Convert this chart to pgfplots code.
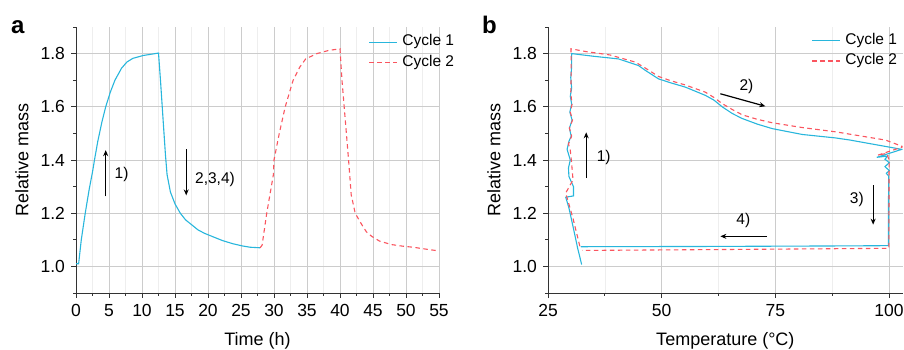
\documentclass[border=0pt]{standalone}
\usepackage{fontspec}
\setmainfont{Liberation Sans}
\usepackage{pgfplots}
\pgfplotsset{compat=1.18}
\usetikzlibrary{arrows.meta}
\definecolor{cyc1}{RGB}{40,182,220}
\definecolor{cyc2}{RGB}{250,85,95}
\tikzset{
 ann/.style={font=\fontsize{15.5}{18}\selectfont},
 arr/.style={black, line width=1.2pt, -{Stealth[length=6pt,width=5pt]}},
}
\pgfplotsset{
 myax/.style={
  scale only axis, height=266pt,
  ymin=0.9, ymax=1.9, ytick={1.0,1.2,1.4,1.6,1.8}, minor ytick={0.9,1.1,1.3,1.5,1.7,1.9},
  axis x line*=bottom, axis y line*=left,
  axis line style={-, black!80, line width=0.8pt},
  tick align=outside, major tick length=5pt, minor tick length=3pt,
  every tick/.style={black!80, line width=0.8pt},
  xmajorgrids, ymajorgrids, xminorgrids,
  major grid style={gray!40, line width=0.6pt},
  minor grid style={gray!13, line width=0.6pt},
  yticklabel style={/pgf/number format/fixed, /pgf/number format/fixed zerofill, /pgf/number format/precision=1, xshift=-2.5pt},
  xticklabel style={yshift=-3pt},
  /pgf/number format/assume math mode=true,
  tick label style={font=\fontsize{17.5}{20}\selectfont},
  every axis x label/.style={at={(axis description cs:0.5,-0.1992)}, anchor=base, font=\fontsize{18}{21}\selectfont},
  legend style={draw=none, fill=none, font=\fontsize{15.5}{18}\selectfont, anchor=north west, inner sep=0pt, row sep=3pt, nodes={inner sep=1.5pt, text height=11pt, text depth=3.5pt}},
  legend cell align=left,
  legend image code/.code={\draw[#1] (0pt,0pt) -- (28pt,0pt); \path (31pt,0pt);},
 },
 c1/.style={cyc1, line width=1.1pt},
 c2/.style={cyc2, line width=1.1pt, dash pattern=on 4.5pt off 3.5pt},
}
\begin{document}
\begin{tikzpicture}[x=1pt,y=1pt]
\useasboundingbox (0,0) rectangle (904,350);
\node[anchor=base west, inner sep=0pt, font=\bfseries\fontsize{24}{28}\selectfont] at (11,316.7) {a};
\node[anchor=base west, inner sep=0pt, font=\bfseries\fontsize{24}{28}\selectfont] at (482,316.7) {b};
\begin{axis}[myax, at={(76pt,57pt)}, anchor=south west, width=363pt,
  xmin=0, xmax=55, xtick={0,5,...,55}, minor xtick={2.5,7.5,...,52.5},
  xlabel={Time (h)}, ylabel={Relative mass},
  every axis y label/.style={at={(axis description cs:-0.1314,0.5)}, rotate=90, anchor=base, font=\fontsize{18}{21}\selectfont},
  legend style={at={(0.806,0.977)}}]
\addplot[c1] coordinates {
(0,1.01) (0.4,1.01) (0.8,1.1) (1.4,1.2) (2.0,1.29) (2.5,1.355) (2.8,1.40) (3.3,1.47) (3.9,1.54)
(4.5,1.60) (5.2,1.655) (5.9,1.70) (6.9,1.745) (7.7,1.768) (8.6,1.782) (10.2,1.793) (11.5,1.798)
(12.5,1.802) (12.8,1.70) (13.2,1.55) (13.55,1.42) (13.8,1.345) (14.3,1.28) (15.0,1.235) (15.8,1.2)
(16.6,1.175) (17.5,1.157) (18.5,1.137) (19.5,1.124) (20.6,1.113) (22.2,1.097) (23.8,1.085)
(25.2,1.077) (26.4,1.072) (27.9,1.07)};
\addlegendentry{Cycle 1}
\addplot[c2] coordinates {
(27.9,1.07) (28.2,1.08) (28.9,1.2) (29.9,1.344) (30.0,1.40) (30.8,1.5) (31.7,1.6) (32.9,1.70)
(33.9,1.749) (34.8,1.78) (36.5,1.80) (38.3,1.812) (40.0,1.818) (40.3,1.70) (40.8,1.55) (41.3,1.40)
(41.7,1.269) (42.3,1.2) (43.3,1.157) (44.0,1.13) (44.8,1.113) (46,1.095) (47.8,1.082) (49.5,1.076)
(51.1,1.072) (53,1.065) (55,1.058)};
\addlegendentry{Cycle 2}
\draw[arr] (axis cs:4.5,1.263) -- (axis cs:4.5,1.437);
\draw[arr] (axis cs:16.7,1.44) -- (axis cs:16.7,1.267);
\node[ann] at (axis cs:6.9,1.344) {1)};
\node[ann] at (axis cs:21.06,1.325) {2,3,4)};
\end{axis}
\begin{axis}[myax, at={(548pt,57pt)}, anchor=south west, width=354.7pt,
  xmin=25, xmax=103, xtick={25,50,75,100}, minor xtick={37.5,62.5,87.5},
  xlabel={Temperature (°C)}, ylabel={Relative mass},
  every axis y label/.style={at={(axis description cs:-0.1344,0.5)}, rotate=90, anchor=base, font=\fontsize{18}{21}\selectfont},
  legend style={at={(0.743,0.983)}}]
\addplot[c1] coordinates {
(32.4,1.007) (31.5,1.07) (30.5,1.15) (29.6,1.22) (28.9,1.26) (30.6,1.265) (30.6,1.30) (29.6,1.338)
(29.5,1.37) (29.9,1.40) (29.2,1.44) (29.6,1.47) (30.1,1.49) (29.7,1.52) (30.3,1.55) (29.8,1.58)
(30.2,1.61) (29.9,1.64) (30.2,1.67) (30.0,1.71) (30.2,1.75) (30.2,1.80)
(35,1.79) (40.5,1.78) (44.9,1.755) (46.4,1.737) (49.3,1.705) (52,1.69) (55.2,1.674) (59.6,1.643)
(61.5,1.625) (63.3,1.60) (65.5,1.575) (67.7,1.556) (71,1.535) (74.3,1.518) (80.9,1.496) (88.2,1.483)
(91.4,1.475) (102.8,1.44) (97.3,1.41) (99.7,1.415) (99.1,1.403) (100.05,1.39) (99.1,1.375)
(100.05,1.36) (99.4,1.35) (99.9,1.34) (99.85,1.078) (90,1.077) (60,1.075) (32.2,1.074)};
\addlegendentry{Cycle 1}
\addplot[c2] coordinates {
(32.0,1.076) (30.5,1.18) (28.9,1.276) (30.5,1.325) (30.2,1.387) (29.9,1.437) (29.5,1.46) (30.2,1.49)
(29.7,1.52) (30.4,1.55) (29.9,1.58) (30.3,1.61) (30.0,1.65) (30.1,1.72) (30.06,1.818)
(33.2,1.808) (38.6,1.795) (44.2,1.768) (46,1.75) (49.3,1.714) (52,1.698) (55.2,1.682) (59.6,1.655)
(61.5,1.635) (63.3,1.612) (65.5,1.59) (67.7,1.57) (71,1.553) (74.3,1.54) (80.9,1.522) (88.2,1.506)
(91.4,1.497) (99.2,1.475) (103.1,1.45) (97.5,1.418) (99.5,1.425) (100,1.40) (99.95,1.068)
(60,1.063) (32.5,1.06)};
\addlegendentry{Cycle 2}
\draw[arr] (axis cs:33.4,1.332) -- (axis cs:33.4,1.504);
\draw[arr] (axis cs:62.9,1.649) -- (axis cs:72.8,1.602);
\draw[arr] (axis cs:96.5,1.306) -- (axis cs:96.5,1.157);
\draw[arr] (axis cs:73.2,1.113) -- (axis cs:62.9,1.113);
\node[ann] at (axis cs:37.25,1.409) {1)};
\node[ann] at (axis cs:68.65,1.677) {2)};
\node[ann] at (axis cs:92.9,1.252) {3)};
\node[ann] at (axis cs:67.95,1.174) {4)};
\end{axis}
\end{tikzpicture}
\end{document}
